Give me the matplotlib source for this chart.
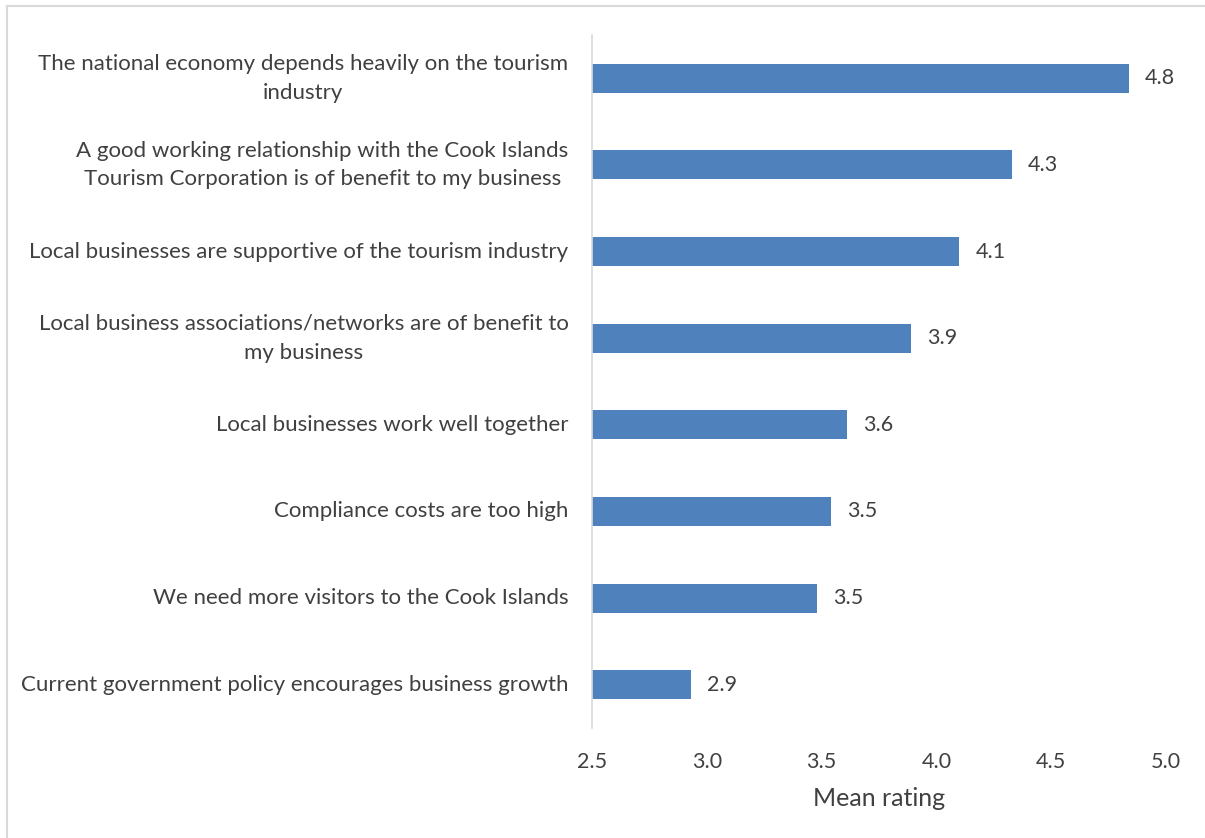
import matplotlib
matplotlib.use("Agg")
import matplotlib.pyplot as plt
from matplotlib.lines import Line2D

# Survey statements (top to bottom) and their mean ratings
statements = [
    "The national economy depends heavily on the tourism\nindustry",
    "A good working relationship with the Cook Islands\nTourism Corporation is of benefit to my business",
    "Local businesses are supportive of the tourism industry",
    "Local business associations/networks are of benefit to\nmy business",
    "Local businesses work well together",
    "Compliance costs are too high",
    "We need more visitors to the Cook Islands",
    "Current government policy encourages business growth",
]
mean_rating = [4.84, 4.33, 4.10, 3.89, 3.61, 3.54, 3.48, 2.93]
x_ticks = [2.5, 3.0, 3.5, 4.0, 4.5, 5.0]

TEXT = "#404040"
BAR = "#4F81BD"
FONT = "Lato"

fig = plt.figure(figsize=(12.05, 8.38), dpi=100)
ax = fig.add_axes([0.4913, 0.1313, 0.4763, 0.8269])

y = list(range(len(statements)))
ax.barh(y, mean_rating, height=0.335, left=0, color=BAR, zorder=2)
ax.set_xlim(2.5, 5.0)
ax.set_ylim(len(statements) - 0.5, -0.5)

for yi, v in zip(y, mean_rating):
    ax.annotate(f"{v:.1f}", xy=(v, yi), xytext=(11.5, 0), textcoords="offset points",
                ha="left", va="center", fontsize=15.5, color=TEXT, family=FONT)

ax.set_yticks(y)
ax.set_yticklabels(statements, fontsize=16, color=TEXT, family=FONT,
                   ha="right", va="center", multialignment="center", linespacing=1.55)
ax.set_xticks(x_ticks)
ax.set_xticklabels([f"{t:.1f}" for t in x_ticks], fontsize=15.5, color=TEXT, family=FONT)
ax.tick_params(axis="y", length=0, pad=17)
ax.tick_params(axis="x", length=0, pad=17)
ax.set_xlabel("Mean rating", fontsize=18, color=TEXT, family=FONT, labelpad=11)

for s in ["top", "right", "bottom"]:
    ax.spines[s].set_visible(False)
ax.spines["left"].set_color("#D9D9D9")
ax.spines["left"].set_linewidth(1.2)

# Light frame edges around the chart area (top and left)
W, H = 1205, 838
fig.add_artist(Line2D([7 / W, 1.0], [1 - 6.5 / H, 1 - 6.5 / H],
                      transform=fig.transFigure, color="#D9D9D9", linewidth=1.5))
fig.add_artist(Line2D([7.5 / W, 7.5 / W], [0.0, 1 - 6.5 / H],
                      transform=fig.transFigure, color="#D9D9D9", linewidth=1.5))

fig.savefig("out.png", dpi=100)
